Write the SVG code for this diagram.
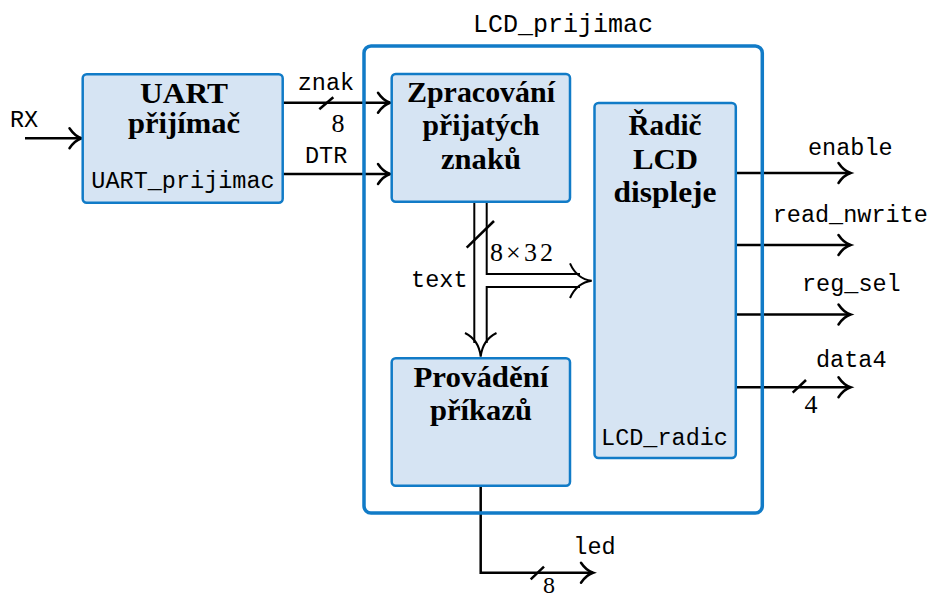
<svg xmlns="http://www.w3.org/2000/svg" width="930" height="599" viewBox="0 0 930 599">
<defs>
<style>
.box{fill:#d6e4f3;stroke:#117bc7;stroke-width:2.5}
.outer{fill:none;stroke:#117bc7;stroke-width:3.5}
.b{font-family:"Liberation Serif","DejaVu Serif",serif;font-weight:bold;font-size:29px;text-anchor:middle;fill:#000}
.m{font-family:"Liberation Mono","DejaVu Sans Mono",monospace;font-size:23.5px;fill:#000}
.n{font-family:"Liberation Serif","DejaVu Serif",serif;font-size:26px;fill:#000}
.w{fill:none;stroke:#000;stroke-width:2.5}
.arr{marker-end:url(#to)}
</style>
<marker id="to" markerUnits="userSpaceOnUse" viewBox="-15 -12 17 24" refX="0" refY="0" markerWidth="17" markerHeight="24" orient="auto" overflow="visible">
<path d="M -12 -10 C -8 -4 -3 -1 0 0 C -3 1 -8 4 -12 10" fill="none" stroke="#000" stroke-width="2.5" stroke-linecap="round"/>
</marker>
</defs>
<rect width="930" height="599" fill="#fff"/>
<g id="LCD_prijimac">
<rect x="364" y="46" width="398.3" height="467" rx="7" fill="#fff"/>
<text class="m" x="563" y="32" text-anchor="middle" style="font-size:25px">LCD_prijimac</text>
</g>
<g id="connectors">
<path class="w arr" d="M25 138.3 H81.5"/>
<text class="m" x="10" y="126.7">RX</text>
<path class="w arr" d="M283 102.7 H390"/>
<path class="w" d="M319.3 109.3 L333.3 97.3"/>
<text class="m" x="297.7" y="90">znak</text>
<text class="n" x="331.5" y="131.7">8</text>
<path class="w arr" d="M283 174 H390"/>
<text class="m" x="305" y="162.7">DTR</text>
<path class="w arr" d="M736 173 H850.5"/>
<text class="m" x="808" y="155">enable</text>
<path class="w arr" d="M736 245 H850.5"/>
<text class="m" x="772.7" y="222">read_nwrite</text>
<path class="w arr" d="M736 314.5 H850.5"/>
<text class="m" x="802" y="291">reg_sel</text>
<path class="w arr" d="M736 387.3 H850.5"/>
<path class="w" d="M792.7 392.7 L806 380"/>
<text class="m" x="816" y="367.3">data4</text>
<text class="n" x="804.5" y="413.3">4</text>
<path class="w arr" d="M480.7 486 V572.7 H593"/>
<path class="w" d="M530.7 579.3 L544 566.7"/>
<text class="m" x="573.3" y="554">led</text>
<text class="n" x="543" y="593" style="font-size:24px">8</text>
<g id="bus-text">
<path d="M474.3 202 V343" fill="none" stroke="#000" stroke-width="2"/>
<path d="M486.7 202 V274 H580" fill="none" stroke="#000" stroke-width="2"/>
<path d="M580 287 H486.7 V343" fill="none" stroke="#000" stroke-width="2"/>
<path d="M465 333 Q479 340 480.7 356.7 Q482.5 340 496.5 333" fill="none" stroke="#000" stroke-width="2"/>
<path d="M570 263.3 Q577 279 591.7 280.7 Q577 282.5 570 298" fill="none" stroke="#000" stroke-width="2"/>
<path class="w" d="M466.7 247.7 L494 221"/>
<text class="m" x="467.5" y="287" text-anchor="end">text</text>
<text class="n" x="490" y="261" textLength="63" lengthAdjust="spacing">8×32</text>
</g>
</g>
<rect class="outer" x="364" y="46" width="398.3" height="467" rx="7"/>
<g id="UART_prijimac">
<rect class="box" x="82.7" y="74.3" width="200" height="128.4" rx="4"/>
<text class="b" x="184" y="103" textLength="88" lengthAdjust="spacingAndGlyphs">UART</text>
<text class="b" x="184" y="133" textLength="112" lengthAdjust="spacingAndGlyphs">přijímač</text>
<text class="m" x="183" y="188.3" text-anchor="middle">UART_prijimac</text>
</g>
<g id="zpracovani">
<rect class="box" x="391.7" y="74" width="178.3" height="127.7" rx="4"/>
<text class="b" x="481" y="101.7" textLength="148" lengthAdjust="spacingAndGlyphs">Zpracování</text>
<text class="b" x="481" y="135" textLength="117" lengthAdjust="spacingAndGlyphs">přijatých</text>
<text class="b" x="481" y="169" textLength="80" lengthAdjust="spacingAndGlyphs">znaků</text>
</g>
<g id="provadeni">
<rect class="box" x="391.7" y="358.3" width="178.3" height="127.4" rx="4"/>
<text class="b" x="481" y="386.7" textLength="135" lengthAdjust="spacingAndGlyphs">Provádění</text>
<text class="b" x="481" y="420" textLength="102" lengthAdjust="spacingAndGlyphs">příkazů</text>
</g>
<g id="LCD_radic">
<rect class="box" x="594.5" y="103" width="141.3" height="355" rx="4"/>
<text class="b" x="665" y="135" textLength="73" lengthAdjust="spacingAndGlyphs">Řadič</text>
<text class="b" x="665.5" y="168.5" textLength="65" lengthAdjust="spacingAndGlyphs">LCD</text>
<text class="b" x="665" y="202" textLength="103" lengthAdjust="spacingAndGlyphs">displeje</text>
<text class="m" x="664.5" y="445" text-anchor="middle">LCD_radic</text>
</g>
</svg>
